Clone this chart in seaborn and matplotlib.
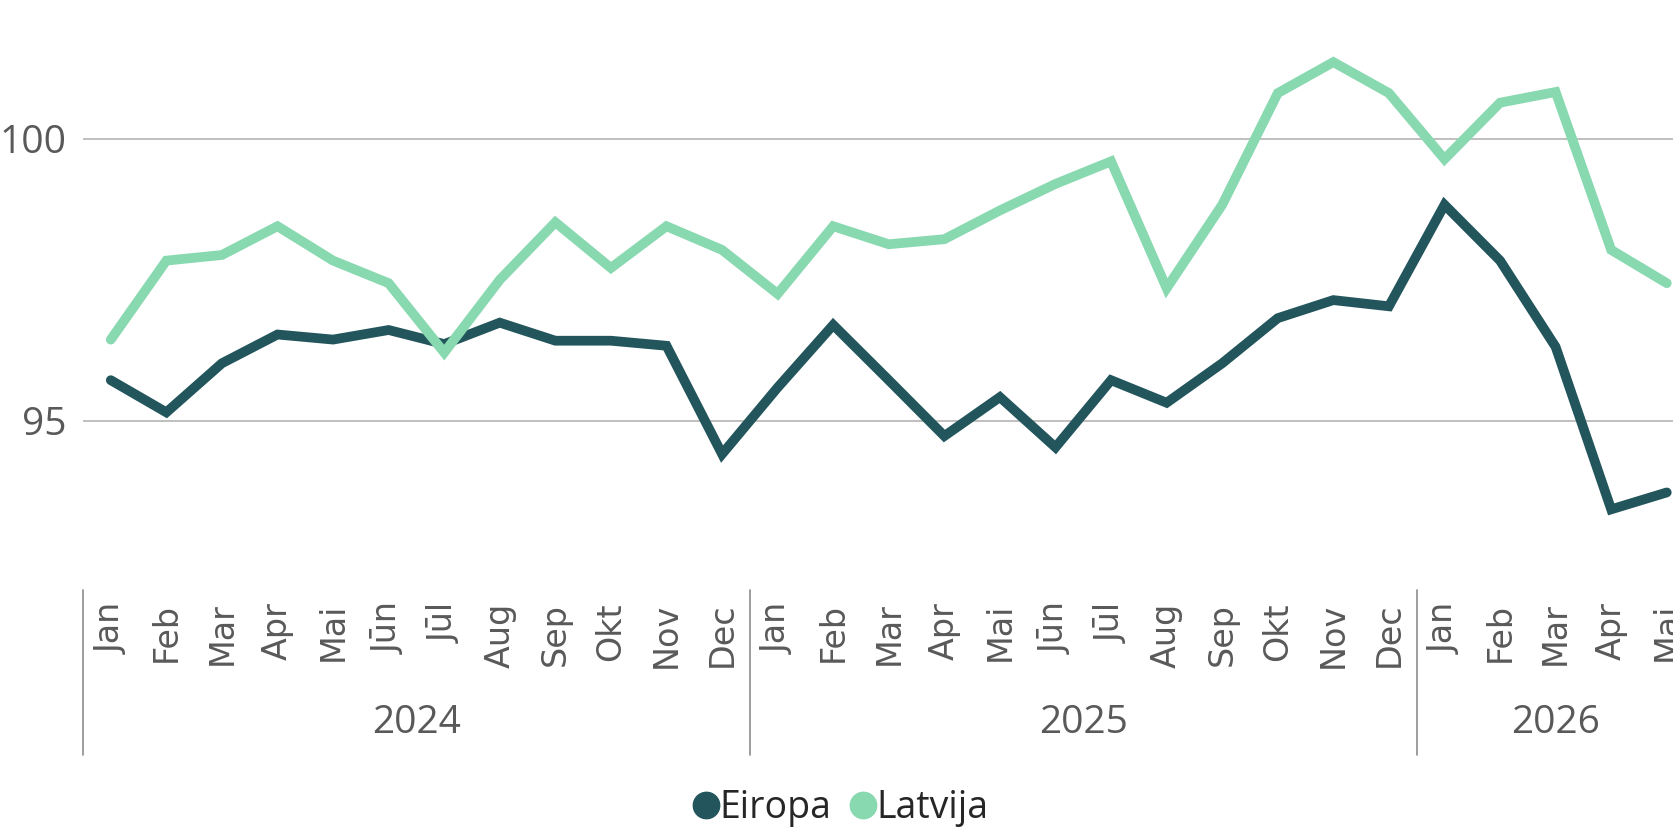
import numpy as np
import pandas as pd
import matplotlib
matplotlib.use("Agg")
import matplotlib.pyplot as plt
import matplotlib.transforms as mtransforms
from matplotlib.lines import Line2D
import seaborn as sns

# ── DATA ─────────────────────────────────────────────────────
months = ["Jan", "Feb", "Mar", "Apr", "Mai", "Jūn", "Jūl", "Aug",
          "Sep", "Okt", "Nov", "Dec"]
years = ["2024", "2025", "2026"]
months_per_year = [12, 12, 5]

eiropa = [95.72, 95.15, 96.02, 96.53, 96.44, 96.61, 96.36, 96.74, 96.42, 96.42, 96.33, 94.41,
          95.59, 96.70, 95.72, 94.73, 95.42, 94.53, 95.72, 95.32, 96.02, 96.82, 97.14, 97.03,
          98.83, 97.84, 96.31, 93.43, 93.73]
latvija = [96.44, 97.84, 97.94, 98.45, 97.84, 97.44, 96.21, 97.50, 98.52, 97.71, 98.45, 98.03,
           97.25, 98.45, 98.13, 98.22, 98.73, 99.20, 99.60, 97.35, 98.83, 100.81, 101.36, 100.81,
           99.64, 100.64, 100.83, 98.03, 97.44]

series_names = ["Eiropa", "Latvija"]
colors = {"Eiropa": "#23555c", "Latvija": "#88d8b0"}

month_labels = []
for n in months_per_year:
    month_labels += months[:n]
idx = np.arange(len(month_labels))

df = pd.DataFrame({
    "idx": np.concatenate([idx, idx]),
    "value": eiropa + latvija,
    "series": ["Eiropa"] * len(eiropa) + ["Latvija"] * len(latvija),
})

# ── PLOT ─────────────────────────────────────────────────────
sns.set_style("white")
plt.rcParams["font.family"] = ["Open Sans", "DejaVu Sans"]

fig = plt.figure(figsize=(16.74, 8.33), dpi=100)
ax = fig.add_axes([83 / 1674, 243 / 833, 1591 / 1674, 564 / 833])

sns.lineplot(
    data=df, x="idx", y="value", hue="series",
    palette=colors, linewidth=7, ax=ax, legend=False,
    solid_capstyle="round", solid_joinstyle="miter",
)

ax.set_xlim(-0.5, 28.13)
ax.set_ylim(92, 102)
ax.set_yticks([95, 100])
ax.set_yticklabels(["95", "100"], fontsize=28, color="#595959")
ax.grid(axis="y", color="#bfbfbf", linewidth=1.4)
ax.grid(axis="x", visible=False)
for s in ax.spines.values():
    s.set_visible(False)

ax.set_xticks(idx)
ax.set_xticklabels(month_labels, rotation=90, fontsize=24,
                   color="#595959", family="DejaVu Sans")
ax.tick_params(axis="both", length=0)
ax.tick_params(axis="x", pad=9)
ax.tick_params(axis="y", pad=12)
ax.set_xlabel("")
ax.set_ylabel("")

# year groups below the month labels
trans = mtransforms.blended_transform_factory(ax.transData, ax.transAxes)
start = 0
bounds = [-0.5]
for yr, n in zip(years, months_per_year):
    ax.text(start + (n - 1) / 2, -0.236, yr, transform=trans,
            ha="center", va="center", fontsize=28, color="#595959")
    start += n
    bounds.append(start - 0.5)
for b in bounds:
    if b <= ax.get_xlim()[1]:
        ax.plot([b, b], [0, -0.293], transform=trans, color="#8c8c8c",
                linewidth=1.2, clip_on=False)

handles = [Line2D([], [], marker="o", linestyle="", markersize=19,
                  color=colors[n]) for n in series_names]
fig.legend(handles, series_names, loc="center", bbox_to_anchor=(0.5, 0.03),
           ncol=2, frameon=False, fontsize=27, handletextpad=-0.2,
           columnspacing=0.3, handlelength=1.1)

plt.savefig("out.png", dpi=100)
